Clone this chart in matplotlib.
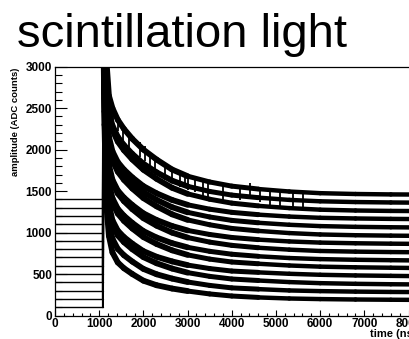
import matplotlib
matplotlib.use('Agg')
import matplotlib.pyplot as plt
import numpy as np
from matplotlib.collections import LineCollection
from matplotlib.ticker import MultipleLocator

# sample times (ns) shared by all waveforms
pulse_times = [0, 1085, 1095, 1120, 1160, 1220, 1300, 1420, 1560, 1750, 2000,
               2300, 2650, 3000, 3500, 4000, 4600, 5300, 6000, 6800, 7600, 8300]

# baseline offset of each waveform (ADC counts)
baselines = [100, 200, 300, 400, 500, 600, 700, 800, 900, 1000, 1100, 1200, 1300, 1400]

# amplitude above baseline (one list per waveform)
pulses = [
    [0, 0, 3300, 2200, 1250, 860, 660, 540, 470, 400, 320, 265, 225, 195, 160, 135, 118, 105, 98, 93, 90, 88],
    [0, 0, 3300, 2260, 1318, 919, 726, 603, 527, 450, 362, 297, 245, 204, 163, 133, 118, 102, 94, 88, 84, 82],
    [0, 0, 3300, 2320, 1385, 977, 792, 666, 584, 499, 404, 330, 266, 217, 172, 140, 122, 103, 90, 82, 77, 74],
    [0, 0, 3300, 2280, 1340, 938, 748, 624, 546, 466, 376, 308, 252, 208, 166, 136, 120, 103, 91, 83, 78, 74],
    [0, 0, 3300, 2380, 1453, 1036, 858, 729, 641, 549, 446, 362, 286, 231, 180, 145, 124, 103, 89, 81, 76, 72],
    [0, 0, 3300, 2340, 1408, 997, 814, 687, 603, 516, 418, 340, 272, 222, 174, 139, 114, 93, 80, 72, 67, 63],
    [0, 0, 3300, 2420, 1498, 1075, 902, 771, 679, 582, 474, 383, 299, 240, 185, 146, 117, 94, 78, 70, 65, 62],
    [0, 0, 3300, 2360, 1430, 1016, 836, 708, 622, 532, 432, 351, 279, 226, 177, 141, 115, 93, 79, 71, 66, 63],
    [0, 0, 3300, 2480, 1565, 1133, 968, 834, 736, 631, 516, 416, 320, 253, 194, 150, 120, 94, 77, 68, 63, 60],
    [0, 0, 3300, 2440, 1520, 1094, 924, 792, 698, 598, 488, 394, 306, 244, 188, 147, 118, 94, 78, 69, 64, 61],
    [0, 0, 3300, 2400, 1475, 1055, 880, 750, 660, 565, 460, 373, 293, 235, 182, 144, 116, 93, 78, 70, 65, 62],
    [0, 0, 3300, 2540, 1633, 1192, 1034, 897, 793, 681, 558, 448, 340, 267, 202, 155, 122, 95, 76, 66, 61, 59],
    [0, 0, 3300, 2500, 1588, 1153, 990, 855, 755, 648, 530, 426, 326, 258, 196, 152, 121, 94, 77, 68, 63, 60],
    [0, 0, 3300, 2600, 1700, 1250, 1100, 960, 850, 730, 600, 480, 360, 280, 210, 160, 125, 95, 75, 65, 60, 58],
]

# noise spikes visible above the top waveform: time (ns) and peak (ADC counts)
spike_times = [1320, 1433, 1546, 1682, 1923, 2036, 2149, 2262, 2489, 2640, 2828, 2941,
               3016, 3167, 3356, 3469, 3808, 4186, 4412, 4638, 4864, 5090, 5392, 5618]
spike_peaks = [2500, 2400, 2297, 2217, 2097, 2044, 1936, 1908, 1815, 1795, 1734, 1715,
               1694, 1674, 1614, 1594, 1574, 1574, 1594, 1553, 1493, 1493, 1493, 1473]

W, H = 410, 339
plt.rcParams['font.family'] = ['Liberation Sans', 'DejaVu Sans']
plt.rcParams['font.weight'] = 'bold'

fig = plt.figure(figsize=(W / 100, H / 100), dpi=100)
ax = fig.add_axes([55 / W, 1 - 315.5 / H, 362 / W, (315.5 - 66.7) / H])

# thin before the pulse, noisy (thick) band after it
seg_widths = [1.0, 1.5] + [4.2] * 11 + [3.6] * 3 + [3.2] * 5

for base, amp in zip(baselines, pulses):
    y = np.array(amp) + base
    pts = np.column_stack([pulse_times, y])
    segs = np.stack([pts[:-1], pts[1:]], axis=1)
    lc = LineCollection(segs, colors='black', linewidths=seg_widths,
                        capstyle='round', joinstyle='round')
    ax.add_collection(lc)

spike_peaks = np.array(spike_peaks)
ax.vlines(spike_times, spike_peaks - 180, spike_peaks, colors='black', linewidth=1.3)

ax.set_xlim(0, 8192)
ax.set_ylim(0, 3000)
ax.xaxis.set_major_locator(MultipleLocator(1000))
ax.xaxis.set_minor_locator(MultipleLocator(200))
ax.yaxis.set_major_locator(MultipleLocator(500))
ax.yaxis.set_minor_locator(MultipleLocator(100))
ax.tick_params(axis='both', which='both', direction='in', width=0.8,
               labelsize=8.5, pad=2, top=False, right=False)
ax.tick_params(axis='y', which='major', length=8.4)
ax.tick_params(axis='y', which='minor', length=4.8)
ax.tick_params(axis='x', which='major', length=4.5)
ax.tick_params(axis='x', which='minor', length=2.4)
for sp in ax.spines.values():
    sp.set_linewidth(0.9)

fig.text(16 / W, 1 - 68 / H, 'amplitude (ADC counts)', rotation=90,
         ha='center', va='top', fontsize=6.8)
fig.text(417 / W, 1 - 334 / H, 'time (ns)', ha='right', va='center', fontsize=8)
fig.text(17 / W, 1 - 47 / H, 'scintillation light', ha='left', va='baseline',
         fontsize=34, fontweight='normal')

fig.savefig('out.png', dpi=100)
